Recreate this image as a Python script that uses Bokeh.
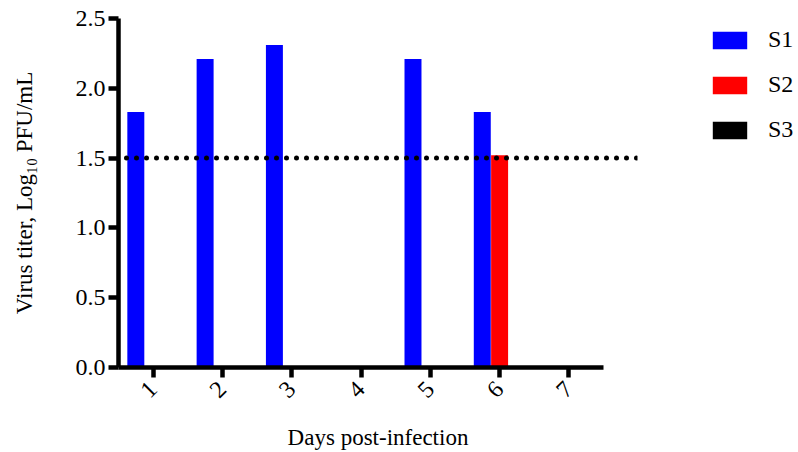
from bokeh.plotting import figure
from bokeh.models import ColumnDataSource, FixedTicker, NumeralTickFormatter, Span, Legend, LegendItem, Range1d
from bokeh.transform import dodge
from bokeh.embed import file_html
from bokeh.resources import INLINE
import math

days = ["1", "2", "3", "4", "5", "6", "7"]
s1 = [1.83, 2.21, 2.31, 0.0, 2.21, 1.83, 0.0]
s2 = [0.0, 0.0, 0.0, 0.0, 0.0, 1.52, 0.0]
s3 = [0.0, 0.0, 0.0, 0.0, 0.0, 0.0, 0.0]
series_names = ["S1", "S2", "S3"]
series_colors = ["#0000ff", "#ff0000", "#000000"]
threshold = 1.5
y_ticks = [0.0, 0.5, 1.0, 1.5, 2.0, 2.5]

FONT = "Liberation Serif"

xpos = list(range(1, len(days) + 1))
src = ColumnDataSource(dict(x=xpos, s1=s1, s2=s2, s3=s3))

p = figure(width=790, height=445, output_backend="svg", toolbar_location=None,
           x_range=Range1d(0.5, 7.99), y_range=Range1d(0, 2.5),
           frame_width=519, frame_height=349,
           min_border_left=118, min_border_top=18, min_border_right=153, min_border_bottom=78)
p.outline_line_color = None
p.xgrid.visible = False
p.ygrid.visible = False
p.background_fill_color = "white"

offsets = [-0.25, 0.0, 0.25]
renderers = []
for col, off, color in zip(["s1", "s2", "s3"], offsets, series_colors):
    r = p.vbar(x=dodge("x", off), top=col, width=0.245, bottom=0, source=src,
               fill_color=color, line_color=color, line_alpha=0.0)
    renderers.append(r)

p.add_layout(Span(location=threshold, dimension="width", line_color="black",
                  line_width=5, line_dash="0 10", line_cap="round", line_dash_offset=-8))

# axes
for ax in (p.xaxis[0], p.yaxis[0]):
    ax.axis_line_width = 4.5
    ax.major_tick_line_width = 4.5
    ax.major_tick_out = 10
    ax.major_tick_in = 0
    ax.minor_tick_line_color = None
    ax.major_label_text_font = FONT
    ax.major_label_text_font_size = "24px"
    ax.major_label_text_color = "black"
    ax.axis_label_text_font = FONT
    ax.axis_label_text_font_size = "23px"
    ax.axis_label_text_font_style = "normal"
    ax.axis_label_text_color = "black"
    ax.axis_line_cap = "butt"

p.xaxis.ticker = FixedTicker(ticks=xpos)
p.xaxis.major_label_overrides = {x: d for x, d in zip(xpos, days)}
p.xaxis.major_label_orientation = math.pi / 4
p.xaxis.bounds = (0.5, 7.5)
p.xaxis.axis_label = "Days post-infection"
p.xaxis.major_label_standoff = 8
p.xaxis.axis_label_standoff = 17

p.yaxis.ticker = FixedTicker(ticks=y_ticks)
p.yaxis.formatter = NumeralTickFormatter(format="0.0")
p.yaxis.axis_label = "Virus titer, Log\u2081\u2080 PFU/mL"
p.yaxis.major_label_standoff = 3
p.yaxis.axis_label_standoff = 36

legend = Legend(items=[LegendItem(label=n, renderers=[r]) for n, r in zip(series_names, renderers)],
                location=(71, 224), orientation="vertical")
legend.glyph_width = 43
legend.glyph_height = 22
legend.label_height = 22
legend.spacing = 18
legend.padding = 0
legend.margin = 0
legend.label_standoff = 17
legend.label_text_font = FONT
legend.label_text_font_size = "24px"
legend.label_text_color = "black"
legend.border_line_alpha = 0
legend.background_fill_alpha = 0
p.add_layout(legend, "right")

open("out.html", "w").write(file_html(p, INLINE))
